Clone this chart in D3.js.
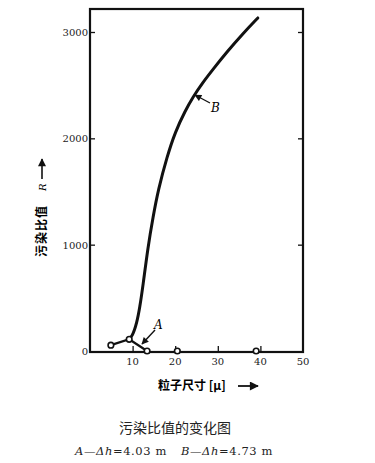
<!DOCTYPE html>
<html>
<head>
<meta charset="utf-8">
<script src="https://cdn.jsdelivr.net/npm/d3@7"></script>
<style>
  body { margin: 0; background: #fff; }
  svg { display: block; }
</style>
</head>
<body>
<div id="chart"></div>
<script>
// data
const xTicks = [10, 20, 30, 40, 50];
const yTicks = [0, 1000, 2000, 3000];
const curveBx = [8.9, 9.9, 11.0, 11.7, 12.4, 13.6, 14.8, 16.0, 18.1, 20.0, 22.3, 24.2, 26.3, 28.9, 32.2, 35.9, 39.4];
const curveBy = [103, 132, 263, 414, 602, 978, 1260, 1514, 1830, 2060, 2255, 2390, 2515, 2650, 2815, 2985, 3132];
const curveAx = [4.9, 9.2, 13.4];
const curveAy = [55, 110, 0];
const pointsX = [4.9, 9.2, 13.4, 20.5, 39];
const pointsY = [55, 110, 0, 0, 0];

const W = 375, H = 463;
const frame = { left: 90, right: 303, top: 9, bottom: 352 };

const svg = d3.select('#chart').append('svg')
    .attr('width', W)
    .attr('height', H);

const x = d3.scaleLinear().domain([0, 50]).range([frame.left, frame.right]);
const y = d3.scaleLinear().domain([0, 3000]).range([351, 32]);

// frame
svg.append('rect')
    .attr('x', frame.left)
    .attr('y', frame.top)
    .attr('width', frame.right - frame.left)
    .attr('height', frame.bottom - frame.top)
    .attr('fill', 'none')
    .attr('stroke', '#111')
    .attr('stroke-width', 2.2);

const tickFont = '"DejaVu Serif", "Liberation Serif", serif';

// left axis (inward ticks)
svg.append('g')
    .attr('transform', `translate(${frame.left},0)`)
    .call(d3.axisRight(y).tickValues(yTicks.slice(1)).tickSize(5).tickFormat(''))
    .call(g => g.select('.domain').remove())
    .call(g => g.selectAll('line').attr('stroke', '#111').attr('stroke-width', 1.3));

svg.append('g')
    .selectAll('text')
    .data(yTicks)
    .enter().append('text')
    .attr('x', frame.left - 2)
    .attr('y', d => y(d) + 4)
    .attr('text-anchor', 'end')
    .style('font-family', tickFont)
    .style('font-size', '10px')
    .style('fill', '#222')
    .text(d => d);

// right axis ticks
svg.append('g')
    .attr('transform', `translate(${frame.right},0)`)
    .call(d3.axisLeft(y).tickValues(yTicks.slice(1)).tickSize(5).tickFormat(''))
    .call(g => g.select('.domain').remove())
    .call(g => g.selectAll('line').attr('stroke', '#111').attr('stroke-width', 1.3));

// bottom axis
svg.append('g')
    .attr('transform', `translate(0,${frame.bottom})`)
    .call(d3.axisTop(x).tickValues(xTicks.slice(0, 4)).tickSize(6).tickFormat(''))
    .call(g => g.select('.domain').remove())
    .call(g => g.selectAll('line').attr('stroke', '#111').attr('stroke-width', 1.3));

svg.append('g')
    .selectAll('text')
    .data(xTicks)
    .enter().append('text')
    .attr('x', d => x(d))
    .attr('y', frame.bottom + 13)
    .attr('text-anchor', 'middle')
    .style('font-family', tickFont)
    .style('font-size', '10px')
    .style('fill', '#222')
    .text(d => d);

// curve B
const lineB = d3.line()
    .x((d, i) => x(curveBx[i]))
    .y(d => y(d))
    .curve(d3.curveBasis);

svg.append('path')
    .datum(curveBy)
    .attr('d', lineB)
    .attr('fill', 'none')
    .attr('stroke', '#111')
    .attr('stroke-width', 3)
    .attr('stroke-linecap', 'round');

// curve A
const lineA = d3.line()
    .x((d, i) => x(curveAx[i]))
    .y(d => y(d));

svg.append('path')
    .datum(curveAy)
    .attr('d', lineA)
    .attr('fill', 'none')
    .attr('stroke', '#111')
    .attr('stroke-width', 2.2);

// measurement points
svg.append('g')
    .selectAll('circle')
    .data(pointsY)
    .enter().append('circle')
    .attr('cx', (d, i) => x(pointsX[i]))
    .attr('cy', d => y(d))
    .attr('r', 2.8)
    .attr('fill', '#fff')
    .attr('stroke', '#111')
    .attr('stroke-width', 1.6);

// arrow marker
svg.append('defs').append('marker')
    .attr('id', 'head')
    .attr('viewBox', '0 0 10 10')
    .attr('refX', 9)
    .attr('refY', 5)
    .attr('markerWidth', 6)
    .attr('markerHeight', 5)
    .attr('orient', 'auto')
    .append('path')
    .attr('d', 'M0,0 L10,5 L0,10 Z')
    .attr('fill', '#111');

// annotation A
svg.append('line')
    .attr('x1', 155).attr('y1', 330)
    .attr('x2', 142).attr('y2', 344)
    .attr('stroke', '#111')
    .attr('stroke-width', 1.4)
    .attr('marker-end', 'url(#head)');

svg.append('text')
    .attr('x', 154)
    .attr('y', 329)
    .style('font-family', tickFont)
    .style('font-style', 'italic')
    .style('font-size', '12px')
    .text('A');

// annotation B
svg.append('line')
    .attr('x1', 210).attr('y1', 103)
    .attr('x2', 195).attr('y2', 95)
    .attr('stroke', '#111')
    .attr('stroke-width', 1.4)
    .attr('marker-end', 'url(#head)');

svg.append('text')
    .attr('x', 211)
    .attr('y', 112)
    .style('font-family', tickFont)
    .style('font-style', 'italic')
    .style('font-size', '12px')
    .text('B');

const cjk = '"Noto Sans CJK SC", sans-serif';

// y axis title
const yTitle = svg.append('g')
    .attr('transform', 'translate(46,257) rotate(-90)');

yTitle.append('text')
    .attr('x', 0)
    .attr('y', 0)
    .style('font-family', cjk)
    .style('font-weight', 'bold')
    .style('font-size', '12px')
    .style('letter-spacing', '1px')
    .text('污染比值');

yTitle.append('text')
    .attr('x', 66)
    .attr('y', 0)
    .style('font-family', tickFont)
    .style('font-style', 'italic')
    .style('font-size', '10px')
    .text('R');

yTitle.append('line')
    .attr('x1', 78).attr('y1', -4)
    .attr('x2', 98).attr('y2', -4)
    .attr('stroke', '#111')
    .attr('stroke-width', 1.6)
    .attr('marker-end', 'url(#head)');

// x axis title
svg.append('text')
    .attr('x', 158)
    .attr('y', 390)
    .style('font-family', cjk)
    .style('font-weight', 'bold')
    .style('font-size', '12px')
    .text('粒子尺寸 [μ]');

svg.append('line')
    .attr('x1', 238).attr('y1', 386)
    .attr('x2', 258).attr('y2', 386)
    .attr('stroke', '#111')
    .attr('stroke-width', 1.8)
    .attr('marker-end', 'url(#head)');

// caption
svg.append('text')
    .attr('x', 175)
    .attr('y', 433)
    .attr('text-anchor', 'middle')
    .style('font-family', cjk)
    .style('font-size', '14px')
    .style('fill', '#222')
    .text('污染比值的变化图');

const cap = svg.append('text')
    .attr('x', 174)
    .attr('y', 455)
    .attr('text-anchor', 'middle')
    .style('font-family', tickFont)
    .style('font-size', '11.5px')
    .style('letter-spacing', '0.6px')
    .style('fill', '#222');

cap.append('tspan').style('font-style', 'italic').text('A');
cap.append('tspan').text('—');
cap.append('tspan').style('font-style', 'italic').text('Δh');
cap.append('tspan').text('=4.03 m');
cap.append('tspan').attr('dx', 14).style('font-style', 'italic').text('B');
cap.append('tspan').text('—');
cap.append('tspan').style('font-style', 'italic').text('Δh');
cap.append('tspan').text('=4.73 m');
</script>
</body>
</html>
